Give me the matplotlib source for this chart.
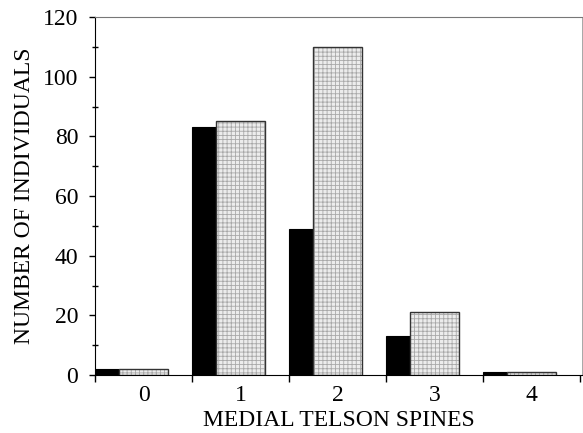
import numpy as np
import matplotlib.pyplot as plt
from matplotlib.ticker import MultipleLocator

plt.rcParams['font.family'] = ['Liberation Serif', 'DejaVu Serif']
plt.rcParams['hatch.linewidth'] = 0.6

spines = [0, 1, 2, 3, 4]
black_counts = [2, 83, 49, 13, 1]
gray_counts = [2, 85, 110, 21, 1]

fig = plt.figure(figsize=(5.83, 4.33), dpi=100)
ax = fig.add_axes([95 / 583, 1 - 375 / 433, 487 / 583, 358 / 433])

x = np.arange(len(spines))
w_black = 0.25
w_gray = 0.5

# black bars start at the left edge of each category slot
ax.bar(x - 0.5, black_counts, width=w_black, align='edge', color='black',
       edgecolor='black', linewidth=0.8, zorder=3)
# gray stippled bars: hatch layer then outline
ax.bar(x - 0.5 + w_black, gray_counts, width=w_gray, align='edge',
       color='#ececec', edgecolor='#a8a8a8', hatch='++++', linewidth=0, zorder=3)
ax.bar(x - 0.5 + w_black, gray_counts, width=w_gray, align='edge',
       fill=False, edgecolor='#333333', linewidth=1.0, zorder=4)

ax.set_xlim(-0.5, 4.52)
ax.set_ylim(0, 120)

ax.set_xticks(np.arange(-0.5, 5, 1.0))
ax.set_xticklabels([])
ax.set_xticks(x, minor=True)
ax.set_xticklabels([str(s) for s in spines], minor=True, fontsize=17)
ax.tick_params(axis='x', which='major', direction='out', length=5, width=1)
ax.tick_params(axis='x', which='minor', length=0, pad=7)

ax.yaxis.set_major_locator(MultipleLocator(20))
ax.yaxis.set_minor_locator(MultipleLocator(10))
ax.tick_params(axis='y', which='major', direction='out', length=4, width=1,
               pad=8, labelsize=17)
ax.tick_params(axis='y', which='minor', direction='inout', length=4, width=1)

ax.spines['top'].set_color('#777777')
ax.spines['right'].set_color('#999999')
ax.spines['right'].set_linewidth(0.6)

ax.set_xlabel('MEDIAL TELSON SPINES', fontsize=17, labelpad=3)
ax.set_ylabel('NUMBER OF INDIVIDUALS', fontsize=17, labelpad=6)

plt.savefig('out.png', dpi=100)
